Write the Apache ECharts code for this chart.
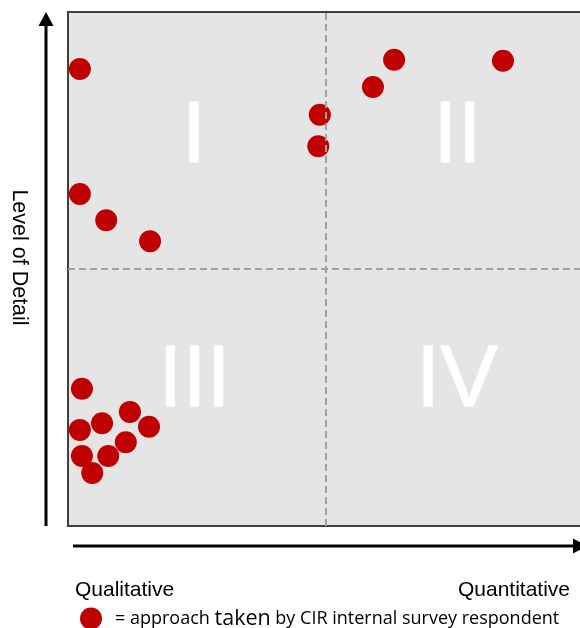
<!DOCTYPE html>
<html>
<head>
<meta charset="utf-8">
<script src="https://cdn.jsdelivr.net/npm/echarts@6/dist/echarts.min.js"></script>
<style>
html,body{margin:0;padding:0;background:#fff;}
#chart{width:580px;height:628px;}
</style>
</head>
<body>
<div id="chart"></div>
<script>
// Respondent approaches: [qualitative→quantitative (0-10), level of detail (0-10)]
const respondentX = [0.23, 0.23, 0.74, 1.59, 4.88, 4.85, 5.91, 6.32, 8.43, 0.27, 0.23, 0.66, 1.20, 1.57, 1.12, 0.78, 0.27, 0.47];
const respondentY = [8.89, 6.46, 5.95, 5.54, 8.00, 7.39, 8.54, 9.07, 9.05, 2.67, 1.87, 2.00, 2.22, 1.93, 1.63, 1.36, 1.36, 1.03];
const quadrantNames = ['I', 'II', 'III', 'IV'];
const quadrantCentersX = [2.5, 7.5, 2.5, 7.5];
const quadrantCentersY = [7.5, 7.5, 2.5, 2.5];
const axisMin = 0, axisMax = 10, axisMid = 5;
const xEndLabels = ['Qualitative', 'Quantitative'];
const yTitle = 'Level of Detail';
const legendName = 'respondent';

const quadOffsets = [[-3, -2], [2.5, -2], [-2.5, -15], [2, -15]];

const chart = echarts.init(document.getElementById('chart'), null, {renderer: 'canvas'});
const FONT = '"Liberation Sans", Arial, sans-serif';
const LFONT = '"Open Sans", "Liberation Sans", sans-serif';

const baseGraphic = [
  {type: 'line', silent: true, shape: {x1: 46, y1: 526, x2: 46, y2: 24}, style: {stroke: '#000', lineWidth: 3}},
  {type: 'polygon', silent: true, shape: {points: [[46, 12], [38.5, 26], [53.5, 26]]}, style: {fill: '#000'}},
  {type: 'line', silent: true, shape: {x1: 73, y1: 546, x2: 575, y2: 546}, style: {stroke: '#000', lineWidth: 3}},
  {type: 'polygon', silent: true, shape: {points: [[587, 546], [573, 538.5], [573, 553.5]]}, style: {fill: '#000'}},
  {type: 'text', silent: true, x: 19, y: 257.5, rotation: -Math.PI / 2,
    style: {text: yTitle, font: '21.5px ' + FONT, fill: '#000', align: 'center', verticalAlign: 'middle'}},
  {type: 'text', silent: true, x: 75, y: 580,
    style: {text: xEndLabels[0], font: '21px ' + FONT, fill: '#000', align: 'left', verticalAlign: 'alphabetic'}},
  {type: 'text', silent: true, x: 570, y: 580,
    style: {text: xEndLabels[1], font: '21px ' + FONT, fill: '#000', align: 'right', verticalAlign: 'alphabetic'}}
];

chart.setOption({
  animation: false,
  backgroundColor: '#ffffff',
  grid: {
    left: 68, top: 12, width: 516, height: 514,
    outerBoundsMode: 'none', containLabel: false,
    show: true, backgroundColor: '#e5e5e5', borderColor: '#404040', borderWidth: 2
  },
  xAxis: {
    type: 'value', min: axisMin, max: axisMax, interval: 5,
    axisLine: {show: false}, axisTick: {show: false}, axisLabel: {show: false}, splitLine: {show: false}
  },
  yAxis: {
    type: 'value', min: axisMin, max: axisMax, interval: 5,
    axisLine: {show: false}, axisTick: {show: false}, axisLabel: {show: false}, splitLine: {show: false}
  },
  legend: {
    left: 75, top: 602.5,
    icon: 'circle', itemWidth: 22, itemHeight: 22, itemGap: 0,
    selectedMode: false,
    data: [legendName],
    formatter: function () { return '{a|= approach }{b|taken}{a| by CIR internal survey respondent}'; },
    textStyle: {
      padding: [0, 0, 0, 8],
      rich: {
        a: {fontFamily: LFONT, fontSize: 18, color: '#000'},
        b: {fontFamily: LFONT, fontSize: 21.5, color: '#000'}
      }
    }
  },
  graphic: baseGraphic,
  series: [
    {
      type: 'scatter', name: 'dividers', data: [], silent: true,
      markLine: {
        silent: true, symbol: 'none', label: {show: false},
        lineStyle: {color: '#a0a0a0', type: [7, 4], width: 2},
        data: [{xAxis: axisMid}, {yAxis: axisMid}]
      },
      z: 1
    },
    {
      type: 'scatter', name: legendName, symbol: 'circle', symbolSize: 22,
      itemStyle: {color: '#c00000', opacity: 1},
      data: respondentX.map((x, i) => [x, respondentY[i]]),
      z: 3
    }
  ]
});

// Quadrant numerals placed at quadrant centres via the chart's own scales
const numeralGraphics = quadrantNames.map((n, i) => {
  const p = chart.convertToPixel({gridIndex: 0}, [quadrantCentersX[i], quadrantCentersY[i]]);
  return {
    type: 'text', silent: true, z: 1, zlevel: 0,
    x: p[0] + quadOffsets[i][0], y: p[1] + quadOffsets[i][1],
    style: {text: n, font: '87px ' + FONT, fill: '#ffffff', stroke: '#ffffff', lineWidth: 1, opacity: 1,
      align: 'center', verticalAlign: 'middle'}
  };
});
chart.setOption({graphic: baseGraphic.concat(numeralGraphics)});
</script>
</body>
</html>
